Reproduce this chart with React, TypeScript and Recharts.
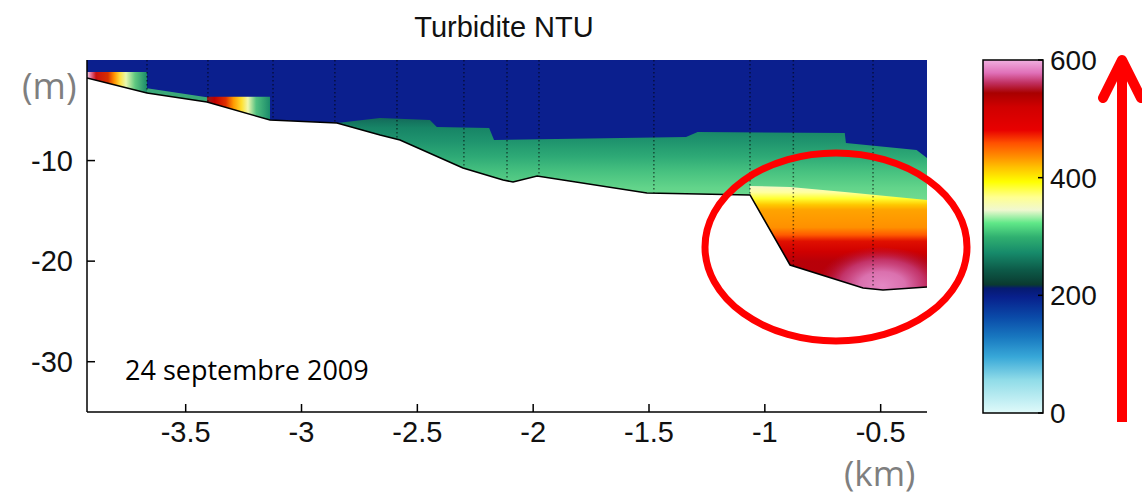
import React from "react";
import {
  ComposedChart, BarChart, Bar, Area, Line, XAxis, YAxis, ReferenceLine,
} from "recharts";

// axes
const X_TICKS = [-3.5, -3, -2.5, -2, -1.5, -1, -0.5];
const Y_TICKS = [-30, -20, -10];
const X_DOMAIN = [-3.926, -0.3];
const Y_DOMAIN = [-35, 0];

// river bed profile (km, m)
const PROFILE_KM = [-3.926, -3.667, -3.408, -3.136, -2.847, -2.661, -2.575, -2.303, -2.13, -2.087, -1.983, -1.509, -1.064, -0.891, -0.576, -0.49, -0.3];
const PROFILE_M = [-1.79, -3.28, -4.18, -5.97, -6.26, -7.46, -7.95, -10.74, -11.93, -12.13, -11.53, -13.22, -13.42, -20.38, -22.67, -22.87, -22.57];

// turbid bottom layer (upper limit)
const GREEN_KM = [-2.847, -2.661, -2.446, -2.416, -2.19, -2.169, -1.34, -1.29, -0.655, -0.65, -0.345, -0.3];
const GREEN_TOP_M = [-6.26, -5.77, -5.97, -6.66, -6.76, -7.95, -7.66, -7.16, -7.26, -8.25, -8.95, -9.74];

// high turbidity plume downstream
const HOT_KM = [-1.064, -0.891, -0.655, -0.3];
const HOT_TOP_M = [-12.53, -12.63, -13.13, -13.92];

// > 550 NTU core near the bed
const PINK_KM = [-0.76, -0.66, -0.5, -0.3];
const PINK_TOP_M = [-21.0, -18.9, -18.6, -19.2];

// small patches upstream
const SPOT1_KM = [-3.926, -3.667];
const SPOT1_TOP_M = [-1.19, -1.19];
const STRIP_KM = [-3.667, -3.408];
const STRIP_TOP_M = [-2.8, -3.7];
const SPOT2_KM = [-3.408, -3.136];
const SPOT2_TOP_M = [-3.65, -3.65];

const LAYER_FLOOR_M = -25;

// profiler stations
const STATION_KM = [-3.667, -3.404, -3.123, -2.856, -2.588, -2.299, -2.113, -1.975, -1.479, -1.064, -0.877, -0.533];
const STATION_BOTTOM_M = [-3.28, -4.2, -6.0, -6.2, -7.9, -10.7, -12.0, -11.5, -13.2, -13.4, -20.5, -22.7];

// colour bar
const CBAR_TICKS = [0, 200, 400, 600];
const CBAR_MAX = 600;
const CBAR_VALUES = [0, 56, 95, 129, 163, 197, 212, 218, 243, 272, 299, 323, 345, 367, 393, 418, 435, 459, 481, 520, 544, 561, 578, 600];
const CBAR_COLORS = ["#e0fafa", "#90dce8", "#38a8d8", "#1878c0", "#0a4aa8", "#08208c", "#061a70", "#0a3a30", "#0d5a48", "#168a6a", "#30b070", "#60e888", "#f0f8d0", "#ffff90", "#ffff00", "#ffc000", "#ff9000", "#ff5000", "#e80000", "#d00000", "#a80000", "#c03060", "#e070b8", "#f0b0e0"];

const NAVY = "#0b1f8e";

const band = (km: number[], top: number[], low: number[] | number) =>
  km.map((k, i) => ({ km: k, band: [Array.isArray(low) ? low[i] : low, top[i]] }));

const waterData = band(PROFILE_KM, PROFILE_KM.map(() => 0), PROFILE_M);
const groundData = band(PROFILE_KM, PROFILE_M, Y_DOMAIN[0]);
const profileData = PROFILE_KM.map((k, i) => ({ km: k, depth: PROFILE_M[i] }));
const greenData = band(GREEN_KM, GREEN_TOP_M, LAYER_FLOOR_M);
const hotData = band(HOT_KM, HOT_TOP_M, LAYER_FLOOR_M);
const pinkData = band(PINK_KM, PINK_TOP_M, LAYER_FLOOR_M);
const spot1Data = band(SPOT1_KM, SPOT1_TOP_M, LAYER_FLOOR_M);
const stripData = band(STRIP_KM, STRIP_TOP_M, LAYER_FLOOR_M);
const spot2Data = band(SPOT2_KM, SPOT2_TOP_M, LAYER_FLOOR_M);
const cbarData = [{ name: "NTU", v: CBAR_MAX }];

const axisFont = { fontSize: 29, fill: "#111", fontFamily: "Liberation Sans, Arial, sans-serif" };
const noLabel = () => <g />;

const Stops = ({ stops }: { stops: [number, string, number?][] }) => (
  <>
    {stops.map(([o, c, a], i) => <stop key={i} offset={o} stopColor={c} stopOpacity={a ?? 1} />)}
  </>
);

const areaProps = { type: "linear" as const, stroke: "none", fillOpacity: 1, isAnimationActive: false, dot: false, activeDot: false };

export default function App() {
  return (
    <div style={{ position: "absolute", left: 0, top: 0, width: 1142, height: 496, background: "#fff", overflow: "hidden" }}>
      <div style={{ position: "absolute", left: 0, top: 0 }}>
        <ComposedChart width={940} height={496} margin={{ top: 60, right: 13, bottom: 44, left: 7 }}>
          <defs>
            <linearGradient id="gGreen" x1="0" y1="0" x2="0" y2="1">
              <Stops stops={[[0, "#136a5a"], [0.05, "#178466"], [0.12, "#1f946e"], [0.2, "#2eaa76"], [0.28, "#48c280"], [0.36, "#62d48a"], [0.44, "#74dc92"], [1, "#74dc92"]]} />
            </linearGradient>
            <linearGradient id="gHot" x1="0" y1="0" x2="0" y2="1">
              <Stops stops={[[0, "#f4f8c8"], [0.05, "#ffffa0"], [0.1, "#ffff30"], [0.15, "#ffc800"], [0.19, "#ffa400"], [0.33, "#ff9000"], [0.39, "#ff5a00"], [0.44, "#e01000"], [0.52, "#d00000"], [0.6, "#b80008"], [1, "#b00010"]]} />
            </linearGradient>
            <radialGradient id="gPink" cx="0.58" cy="0.6" r="0.62">
              <Stops stops={[[0, "#e488c4"], [0.35, "#dc76b6", 0.95], [0.65, "#c84890", 0.7], [1, "#b01040", 0]]} />
            </radialGradient>
            <linearGradient id="gSpot1" x1="0" y1="0" x2="1" y2="0">
              <Stops stops={[[0, "#f0d0f0"], [0.08, "#e06080"], [0.15, "#c81010"], [0.35, "#d83000"], [0.45, "#ff9000"], [0.55, "#ffe040"], [0.65, "#e8f8b0"], [0.8, "#60c880"], [1, "#1a8a6a"]]} />
            </linearGradient>
            <linearGradient id="gSpot2" x1="0" y1="0" x2="1" y2="0">
              <Stops stops={[[0, "#902020"], [0.12, "#c00000"], [0.3, "#e03000"], [0.42, "#ff9a00"], [0.55, "#ffe030"], [0.65, "#f0f8b0"], [0.78, "#50c080"], [1, "#1a8a6a"]]} />
            </linearGradient>
          </defs>

          <XAxis type="number" dataKey="km" domain={X_DOMAIN} allowDataOverflow ticks={X_TICKS} interval={0}
            height={40} tickSize={-8} tickMargin={17} tick={axisFont}
            axisLine={{ stroke: "#000", strokeWidth: 1.5 }} tickLine={{ stroke: "#000", strokeWidth: 1.5 }} />
          <XAxis xAxisId="t" orientation="top" type="number" dataKey="km" domain={X_DOMAIN} allowDataOverflow ticks={X_TICKS} interval={0}
            height={0} tickSize={-8} tick={noLabel}
            axisLine={{ stroke: "#000", strokeWidth: 1.5 }} tickLine={{ stroke: "#000" }} />
          <YAxis type="number" domain={Y_DOMAIN} allowDataOverflow ticks={Y_TICKS} interval={0}
            width={80} tickSize={-8} tickMargin={22} tick={axisFont}
            axisLine={{ stroke: "#000", strokeWidth: 1.5 }} tickLine={{ stroke: "#000", strokeWidth: 1.5 }} />
          <YAxis yAxisId="r" orientation="right" type="number" domain={Y_DOMAIN} allowDataOverflow ticks={Y_TICKS} interval={0}
            width={0} tickSize={-8} tick={noLabel}
            axisLine={{ stroke: "#000", strokeWidth: 1.5 }} tickLine={{ stroke: "#000", strokeWidth: 1.5 }} />

          <Area data={waterData} dataKey="band" fill={NAVY} {...areaProps} />
          <Area data={greenData} dataKey="band" fill="url(#gGreen)" {...areaProps} />
          <Area data={hotData} dataKey="band" fill="url(#gHot)" {...areaProps} />
          <Area data={pinkData} dataKey="band" fill="url(#gPink)" {...areaProps} />
          <Area data={spot1Data} dataKey="band" fill="url(#gSpot1)" {...areaProps} />
          <Area data={stripData} dataKey="band" fill="#3aa878" {...areaProps} />
          <Area data={spot2Data} dataKey="band" fill="url(#gSpot2)" {...areaProps} />
          <Area data={groundData} dataKey="band" fill="#fff" {...areaProps} />

          {STATION_KM.map((k, i) => (
            <ReferenceLine key={k} segment={[{ x: k, y: 0 }, { x: k, y: STATION_BOTTOM_M[i] }]}
              stroke="#000" strokeOpacity={0.55} strokeWidth={1.5} strokeDasharray="1.5 2.5" />
          ))}

          <Line data={profileData} dataKey="depth" type="linear" stroke="#000" strokeWidth={1.6} dot={false} activeDot={false} isAnimationActive={false} />
        </ComposedChart>
      </div>

      <div style={{ position: "absolute", left: 975, top: 0 }}>
        <BarChart width={140} height={496} data={cbarData} barCategoryGap={0} margin={{ top: 60, right: 22, bottom: 83, left: 8 }}>
          <defs>
            <linearGradient id="gBar" x1="0" y1="1" x2="0" y2="0">
              {CBAR_VALUES.map((v, i) => <stop key={v} offset={v / CBAR_MAX} stopColor={CBAR_COLORS[i]} />)}
            </linearGradient>
          </defs>
          <XAxis dataKey="name" hide />
          <YAxis yAxisId="l" orientation="left" type="number" domain={[0, CBAR_MAX]} ticks={CBAR_TICKS} interval={0}
            width={0} tickSize={-5} tick={noLabel} axisLine={false} tickLine={{ stroke: "#000", strokeWidth: 1.5 }} />
          <YAxis orientation="right" type="number" domain={[0, CBAR_MAX]} ticks={CBAR_TICKS} interval={0}
            width={50} tickSize={-5} tickMargin={12} tick={{ ...axisFont, fontSize: 28 }}
            axisLine={false} tickLine={{ stroke: "#000", strokeWidth: 1.5 }} />
          <Bar dataKey="v" fill="url(#gBar)" stroke="#000" strokeWidth={1.5} isAnimationActive={false} />
        </BarChart>
      </div>

      <svg width={1142} height={496} style={{ position: "absolute", left: 0, top: 0, pointerEvents: "none" }}>
        <text x={504} y={37} textAnchor="middle" fontFamily="Liberation Sans, Arial, sans-serif" fontSize={29} fill="#111">Turbidite NTU</text>
        <text x={22} y={99} fontFamily="Open Sans, sans-serif" fontSize={36} fill="#7f7f7f">(m)</text>
        <text x={844} y={486} fontFamily="Open Sans, sans-serif" fontSize={35} fill="#7f7f7f">(km)</text>
        <text x={125} y={380} fontFamily="Open Sans, sans-serif" fontSize={27} fill="#000">24 septembre 2009</text>
        <ellipse cx={836} cy={247} rx={131} ry={94} fill="none" stroke="#ff0000" strokeWidth={7} />
        <path d="M1122 422 V64" stroke="#ff0000" strokeWidth={10} fill="none" />
        <path d="M1103 98 L1122 60 L1141 98" stroke="#ff0000" strokeWidth={10} fill="none" strokeLinecap="round" strokeLinejoin="round" />
      </svg>
    </div>
  );
}
